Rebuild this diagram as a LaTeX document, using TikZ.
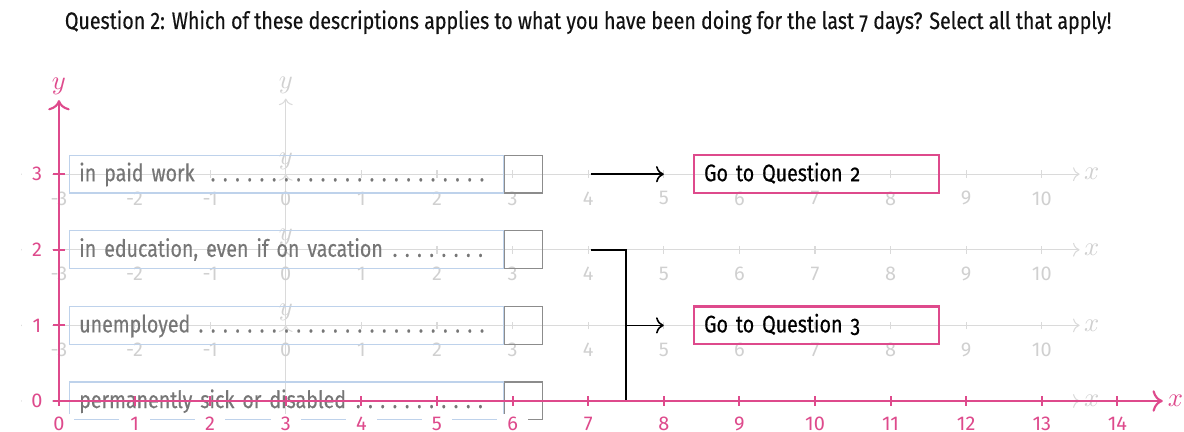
\documentclass[tikz,border=0pt]{standalone}
\usepackage{fontspec}
\setmainfont{Fira Sans}[FakeStretch=0.82, FakeBold=0.35]
\newfontfamily\tickfont{Fira Sans}
\usetikzlibrary{arrows.meta}

\definecolor{axispink}{RGB}{222,74,140}
\definecolor{boxblue}{RGB}{190,210,235}
\definecolor{faintaxis}{RGB}{218,218,218}
\definecolor{faintlabel}{RGB}{208,208,208}
\definecolor{optiontext}{RGB}{118,118,118}
\definecolor{chkgray}{RGB}{140,140,140}

\newcommand\oldnum[1]{{\addfontfeatures{Numbers=OldStyle}#1}}
\newcommand\leaderdots{\cleaders\hbox to 4.6pt{\hss.\hss}\hfill}

\tikzset{
  faint/.style={draw=faintaxis, line width=0.4pt},
  faintlbl/.style={text=faintlabel, font=\tickfont\fontsize{7.5}{9}\selectfont, inner sep=1pt},
  faintvar/.style={text=faintlabel, font=\fontsize{10}{12}\selectfont, inner sep=1.5pt},
  optbox/.style={draw=boxblue, line width=0.45pt, anchor=west, minimum height=0.5cm,
    text width=5.48cm, inner xsep=0.13cm, inner ysep=0pt, align=left,
    text height=7pt, text depth=1.7pt, text=optiontext,
    font=\fontsize{9}{11}\selectfont},
  chkbox/.style={draw=chkgray, line width=0.45pt, anchor=west, minimum width=0.5cm,
    minimum height=0.5cm, inner sep=0pt},
  flow/.style={draw=black, line width=0.6pt},
  gotobox/.style={draw=axispink, line width=0.8pt, anchor=west, minimum width=3.24cm,
    minimum height=0.5cm, inner xsep=0.13cm, inner ysep=0pt, align=left,
    text width=2.98cm, text height=7pt, text depth=1.7pt,
    font=\fontsize{9}{11}\selectfont},
  pinkaxis/.style={draw=axispink, line width=0.8pt},
  pinklbl/.style={text=axispink, fill=white, font=\tickfont\fontsize{7.5}{9}\selectfont,
    minimum width=0.4cm, inner sep=1pt},
  pinkvar/.style={text=axispink, font=\fontsize{10}{12}\selectfont, inner sep=1.5pt},
  titletext/.style={font=\fontsize{9}{11}\selectfont, text=black!93},
}

\begin{document}
\begin{tikzpicture}
\useasboundingbox (-0.780,-0.410) rectangle (14.881,5.304);

% faint coordinate systems, one per answer row, origin at (3,row)
\foreach \r in {0,1,2,3}{
  \draw[faint,{To}-{To}] (-0.5,\r) -- (13.5,\r) node[right, faintvar] {$x$};
  \draw[faint,-{To}] (3,\r-1) -- (3,\r+1) node[above, faintvar] {$y$};
  \foreach \k in {0,...,13}
    \draw[faint] (\k,\r-0.05) -- (\k,\r+0.05);
}
\foreach \r in {1,2,3}{
  \foreach \k in {-3,...,10}
    \node[faintlbl] at (3+\k,\r-0.32) {\k};
}

% answer options with their check boxes
\node[optbox] (opt3) at (0.13,3) {in paid work\hspace{0.15cm}\leaderdots\hspace*{0.06cm}};
\node[optbox] (opt2) at (0.13,2) {in education, even if on vacation\hspace{0.05cm}\leaderdots\hspace*{0.06cm}};
\node[optbox] (opt1) at (0.13,1) {unemployed\hspace{0.05cm}\leaderdots\hspace*{0.06cm}};
\node[optbox] (opt0) at (0.13,0) {permanently sick or disabled\hspace{0.05cm}\leaderdots\hspace*{0.06cm}};
\foreach \r in {0,1,2,3}
  \node[chkbox] (chk\r) at (opt\r.east) {};

% routing targets
\node[gotobox] (goq2) at (8.39,3) {Go to Question \oldnum{2}};
\node[gotobox] (goq3) at (8.39,1) {Go to Question \oldnum{3}};

% routing connectors
\coordinate (s3) at ([xshift=0.63cm]chk3.east);
\coordinate (s2) at ([xshift=0.63cm]chk2.east);
\coordinate (s0) at ([xshift=0.63cm]chk0.east);
\coordinate (join) at (7.5,1);
\draw[flow,-{To}] (s3) -- ([xshift=-0.39cm]goq2.west);
\draw[flow] (s2) -| (join) |- (s0);
\draw[flow,-{To}] (join) -- ([xshift=-0.39cm]goq3.west);

% main axes
\draw[pinkaxis,-{To[scale=1.15]}] (0,0) -- (14.6,0) node[right, pinkvar] {$x$};
\draw[pinkaxis,-{To[scale=1.15]}] (0,0) -- (0,3.98) node[above, pinkvar] {$y$};
\foreach \k in {0,...,14}{
  \draw[pinkaxis] (\k,-0.065) -- (\k,0.065);
  \node[pinklbl] at (\k,-0.3) {\k};
}
\foreach \k in {0,...,3}{
  \draw[pinkaxis] (-0.075,\k) -- (0.075,\k);
  \node[pinklbl] at (-0.29,\k) {\k};
}

% question
\node[titletext] (title) at (7.0,5.01) {Question 2: Which of these descriptions applies to what you have been doing for the last \oldnum{7} days? Select all that apply!};
\end{tikzpicture}
\end{document}
